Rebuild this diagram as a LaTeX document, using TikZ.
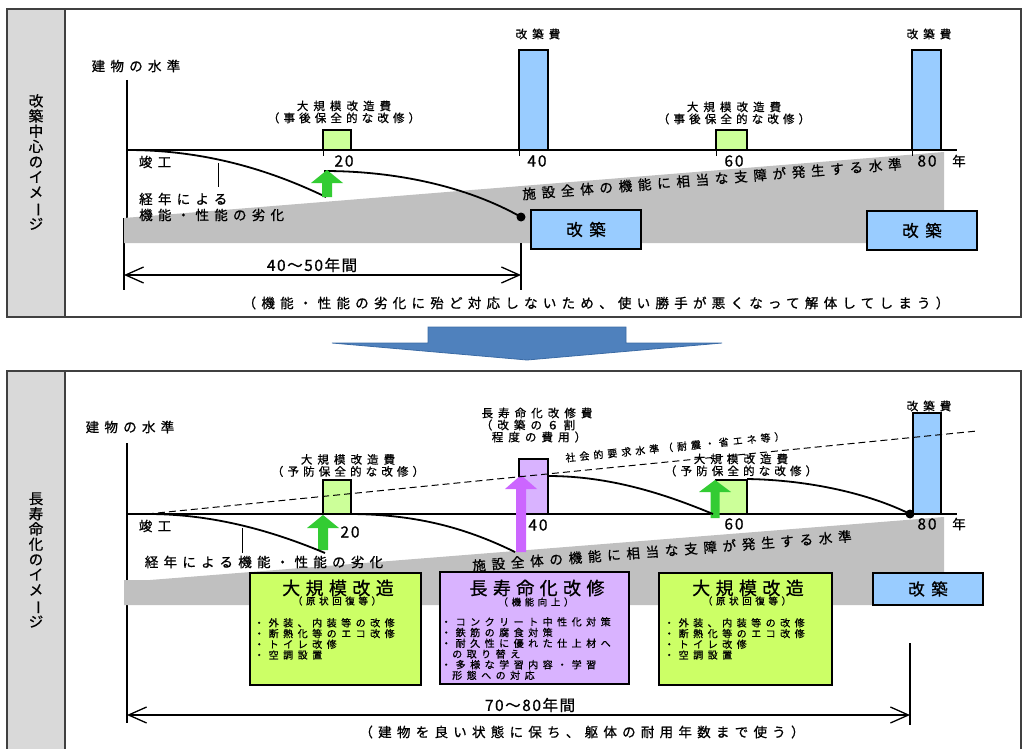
\documentclass[tikz,border=0pt]{standalone}
\usepackage{fontspec}
\usepackage{graphicx}
\setmainfont{Noto Sans CJK JP}
\usetikzlibrary{arrows.meta}
\definecolor{colgray}{HTML}{D9D9D9}
\definecolor{bandgray}{HTML}{C0C0C0}
\definecolor{barblue}{HTML}{99CCFF}
\definecolor{lgreen}{HTML}{CCFF99}
\definecolor{ygreen}{HTML}{CCFF66}
\definecolor{lpurple}{HTML}{D9B3FF}
\definecolor{arrgreen}{HTML}{33CC33}
\definecolor{arrpurple}{HTML}{CC66FF}
\definecolor{bigblue}{HTML}{4F81BD}
\definecolor{bigblueedge}{HTML}{3B6BA5}
\definecolor{framecol}{HTML}{404040}
\newcommand\jf[3]{\fontsize{#1}{#2}\selectfont\addfontfeature{LetterSpace=#3,FakeBold=0.8}}
\newcommand\fatup[6]{%
  \fill[#6] ({#1-#5},#2) -- ({#1-#5},#4) -- ({#1-16},#4) -- (#1,#3) -- ({#1+16},#4) -- ({#1+#5},#4) -- ({#1+#5},#2) -- cycle;}
\tikzset{
  lbl/.style={inner sep=0pt, font=\jf{13.5}{15}{39}},
  cost/.style={inner sep=0pt, align=center, font=\jf{11.5}{12}{44}},
  num/.style={inner sep=0pt, font=\jf{15.5}{16}{12}},
  band/.style={inner sep=0pt, font=\jf{13.5}{15}{43}},
  axisline/.style={line width=1.8pt},
  curveline/.style={line width=1.8pt},
  bar/.style={draw=black, line width=2.5pt},
  dimline/.style={line width=1.3pt, {Straight Barb[length=18pt,width=16pt]}-{Straight Barb[length=18pt,width=16pt]}},
  kaichiku/.style={draw=black, line width=1.2pt, fill=barblue, inner sep=0pt, font=\jf{16.5}{17}{40}},
  bigbox/.style={draw=black, line width=1.2pt},
  title/.style={inner sep=0pt, font=\jf{18}{19}{30}},
  subtitle/.style={inner sep=0pt, font=\jf{9.5}{10}{38}},
  bullets/.style={inner sep=0pt, align=left, anchor=north west, font=\jf{10}{10.7}{45}},
  vert/.style={inner sep=0pt, align=center, font=\jf{14.5}{15.2}{0}},
  framebox/.style={draw=framecol, line width=1.5pt},
}
\begin{document}
\begin{tikzpicture}[x=1pt,y=-1pt]
\useasboundingbox (0,0) rectangle (1023,749);
% ================= TOP PANEL =================
\filldraw[framebox, fill=white] (7,9) rectangle (1021,317);
\filldraw[framebox, fill=colgray] (7,9) rectangle (65,317);
\node[vert] (vt1) at (36,162) {改\\築\\中\\心\\の\\イ\\メ\\\rotatebox[origin=c]{-90}{ー}\\ジ};
% axis
\coordinate (o1) at (127,150);
\coordinate (e1) at (957,150);
\draw[axisline] (127,80) -- (127,218);
\draw[line width=1.3pt] (124,218) -- (124,290);
\draw[axisline] (o1) -- (e1);
% gray band
\fill[bandgray] (124,218) -- (944,152) -- (944,243) -- (124,243) -- cycle;
% bars
\draw[bar, fill=lgreen] (323,150) rectangle (351,130);
\draw[bar, fill=lgreen] (716,150) rectangle (747,130);
\draw[bar, fill=barblue] (519,150) rectangle (548,50);
\draw[bar, fill=barblue] (912,150) rectangle (941,50);
\foreach \tx in {323,519,716,912} \draw[line width=1pt] (\tx,150) -- (\tx,156);
% curves
\coordinate (c1a) at (127,150);
\coordinate (c1b) at (326,197);
\coordinate (c2a) at (324,171);
\coordinate (c2b) at (521,217);
\draw[curveline] (c1a) .. controls (205,150) and (270,170) .. (c1b);
\draw[curveline] (c2a) .. controls (400,171) and (470,188) .. (c2b);
\fatup{327}{197}{170}{183}{5}{arrgreen}
\fill (c2b) circle (4.5);
% deterioration tick
\draw[line width=0.8pt] (218,163) -- (218,187);
% labels
\node[lbl] (lev1) at (136,66) {建物の水準};
\node[cost] (cost20a) at (344,112) {大規模改造費\\{\addfontfeature{LetterSpace=36}（事後保全的な改修）}};
\node[cost] (cost60a) at (734,113) {大規模改造費\\{\addfontfeature{LetterSpace=36}（事後保全的な改修）}};
\node[cost] (kc40a) at (538,34) {改築費};
\node[cost] (kc80a) at (929,34) {改築費};
\node[num] (n20a) at (344,161) {20};
\node[num] (n40a) at (537,161) {40};
\node[num] (n60a) at (734,161) {60};
\node[num] (n80a) at (927,161) {80};
\node[lbl] (yr1) at (959,161) {年};
\node[lbl] (sk1) at (155,162) {竣工};
\node[lbl, anchor=west] (kn1) at (139,199) {経年による};
\node[lbl, anchor=west] (kn2) at (139,215) {機能・性能の劣化};
\node[band, rotate=4.6] (bandt1) at (712,179) {施設全体の機能に相当な支障が発生する水準};
\node[kaichiku, minimum width=110pt, minimum height=39pt] (kc1) at (586,229.5) {改築};
\node[kaichiku, minimum width=110pt, minimum height=39pt] (kc2) at (922,230.5) {改築};
% dimension
\coordinate (d1a) at (124,275);
\coordinate (d1b) at (521,275);
\draw[line width=1.3pt] (521,243) -- (521,290);
\draw[dimline] (d1a) -- (d1b);
\node[inner sep=0pt, font=\jf{15.5}{16}{10}] (dur1) at (312,265) {40～50年間};
\node[lbl] (note1) at (596,303) {（機能・性能の劣化に殆ど対応しないため、使い勝手が悪くなって解体してしまう）};
% ================= BIG ARROW =================
\filldraw[fill=bigblue, draw=bigblueedge, line width=0.8pt] (428,327) -- (626,327) -- (626,343) -- (722,343) -- (527,360) -- (332,343) -- (428,343) -- cycle;
% ================= BOTTOM PANEL =================
\filldraw[framebox, fill=white] (7,371) rectangle (1021,760);
\filldraw[framebox, fill=colgray] (7,371) rectangle (65,760);
\node[vert] (vt2) at (36,560) {長\\寿\\命\\化\\の\\イ\\メ\\\rotatebox[origin=c]{-90}{ー}\\ジ};
\coordinate (o2) at (127,514);
\coordinate (e2) at (957,514);
\draw[axisline] (127,443) -- (127,723);
\draw[axisline] (o2) -- (e2);
\fill[bandgray] (124,580) -- (150,580) -- (944,517) -- (944,605) -- (124,605) -- cycle;
% bars
\draw[bar, fill=lgreen] (323,514) rectangle (351,480);
\draw[bar, fill=lpurple] (519,514) rectangle (548,459);
\draw[bar, fill=lgreen] (716,514) rectangle (747,480);
\draw[bar, fill=barblue] (913,514) rectangle (941,413);
% arrows
\fatup{323}{550}{515}{528}{5}{arrgreen}
\fatup{521}{552}{475}{489}{5}{arrpurple}
\fatup{715}{518}{480}{492}{4.5}{arrgreen}
% curves
\coordinate (b1a) at (148,514);
\coordinate (b1b) at (325,553);
\coordinate (b2a) at (348,514);
\coordinate (b2b) at (515,552);
\coordinate (b3a) at (548,476);
\coordinate (b3b) at (713,514);
\coordinate (b4a) at (747,479);
\coordinate (b4b) at (910,514);
\draw[curveline] (b1a) .. controls (215,514) and (275,532) .. (b1b);
\draw[curveline] (b2a) .. controls (420,514) and (470,530) .. (b2b);
\draw[curveline] (b3a) .. controls (610,476) and (665,494) .. (b3b);
\draw[curveline] (b4a) .. controls (810,480) and (870,494) .. (b4b);
\fill (b4b) circle (4.5);
% dashed social level
\coordinate (s1) at (147,514);
\coordinate (s2) at (977,431);
\draw[line width=1pt, dash pattern=on 7pt off 4pt] (s1) -- (s2);
\draw[line width=0.8pt] (242,528) -- (242,553);
% labels
\node[lbl] (lev2) at (130,427) {建物の水準};
\node[cost] (cost20b) at (348,465.5) {大規模改造費\\{\addfontfeature{LetterSpace=36}（予防保全的な改修）}};
\node[cost] (cost60b) at (741,465) {大規模改造費\\{\addfontfeature{LetterSpace=36}（予防保全的な改修）}};
\node[cost] (kl1) at (537,413) {長寿命化改修費};
\node[cost] (kl2) at (528,425) {（改築の６割};
\node[cost] (kl3) at (539,437) {程度の費用）};
\node[cost] (kc80b) at (929,406) {改築費};
\node[inner sep=0pt, rotate=5.7, font=\jf{10}{10}{40}] (soc) at (675,447) {社会的要求水準（耐震・省エネ等）};
\node[num] (n20b) at (350,532) {20};
\node[num] (n40b) at (538,525) {40};
\node[num] (n60b) at (734,524) {60};
\node[num] (n80b) at (927,524) {80};
\node[lbl] (yr2) at (959,524) {年};
\node[lbl] (sk2) at (155,526) {竣工};
\node[lbl] (kn3) at (264,562) {経年による機能・性能の劣化};
\node[band, rotate=4.5] (bandt2) at (662,551) {施設全体の機能に相当な支障が発生する水準};
% big boxes
\draw[bigbox, fill=ygreen] (250,573) rectangle (421,685);
\node[title] (t1) at (338,588) {大規模改造};
\node[subtitle] (st1) at (337,601) {（原状回復等）};
\node[bullets] (bl1) at (254,618) {・外装、内装等の改修\\・断熱化等のエコ改修\\・トイレ改修\\・空調設置};
\draw[bigbox, fill=lpurple] (440,572) rectangle (629,684);
\node[title] (t2) at (537,588) {長寿命化改修};
\node[subtitle] (st2) at (536,602) {（機能向上）};
\node[bullets] (bl2) at (441,617) {・コンクリート中性化対策\\・鉄筋の腐食対策\\・耐久性に優れた仕上材へ\\\hspace*{11pt}の取り替え\\・多様な学習内容・学習\\\hspace*{11pt}形態への対応};
\draw[bigbox, fill=ygreen] (659,573) rectangle (832,685);
\node[title] (t3) at (748,588) {大規模改造};
\node[subtitle] (st3) at (747,601) {（原状回復等）};
\node[bullets] (bl3) at (664,618) {・外装、内装等の改修\\・断熱化等のエコ改修\\・トイレ改修\\・空調設置};
\node[kaichiku, minimum width=110pt, minimum height=32pt] (kc3) at (928,589) {改築};
% dimension
\coordinate (d2a) at (127,715);
\coordinate (d2b) at (910,715);
\draw[line width=1.3pt] (910,643) -- (910,725);
\draw[dimline] (d2a) -- (d2b);
\node[inner sep=0pt, font=\jf{15.5}{16}{10}] (dur2) at (530,705) {70～80年間};
\node[lbl] (note2) at (582,732) {（建物を良い状態に保ち、躯体の耐用年数まで使う）};
\end{tikzpicture}
\end{document}
